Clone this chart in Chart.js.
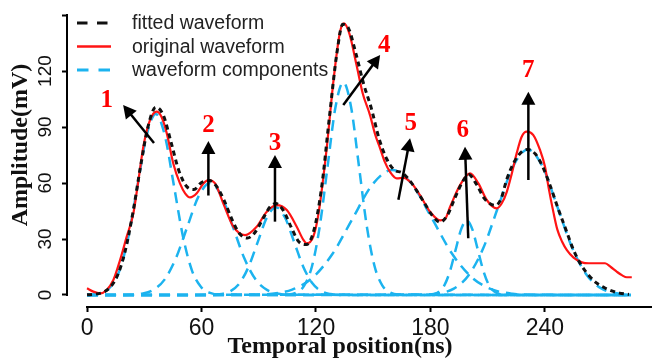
<!DOCTYPE html>
<html><head><meta charset="utf-8">
<script src="https://cdn.jsdelivr.net/npm/chart.js@4.4.0/dist/chart.umd.min.js"></script>
<style>html,body{margin:0;padding:0;background:#fff;overflow:hidden}canvas{display:block}</style>
</head><body>
<canvas id="c" width="652" height="358"></canvas>
<script>
const xTicks = [0, 60, 120, 180, 240];
const yTicks = [0, 30, 60, 90, 120, 150];
const yTickLabels = ['0', '30', '60', '90', '120', ''];
const seriesNames = ['fitted waveform', 'original waveform', 'waveform components'];

const fitted = [[0,0.1],[4,0.4],[8,1.3],[12,4],[16,10.6],[20,23.6],[24,43.9],[28,68.6],[32,90.3],[36,100.6],[40,96.3],[44,82],[48,67],[52,58.4],[56,56.5],[60,60.3],[64,61.3],[68,58.1],[72,50.3],[76,40.4],[80,32.8],[84,30.5],[88,33.5],[92,40.5],[96,47.3],[99,49],[103,45.1],[107,36.3],[111,28.5],[115,27],[119,35],[123,58],[127,95],[131,130],[134,145],[137,143],[141,129],[145,113],[149,100],[153,84],[157,73],[161,67],[165,65.5],[169,61.5],[173,55.5],[177,49],[181,42.5],[185,39],[189,43],[193,52.5],[197,61],[200,64.5],[204,59.5],[208,52],[211,49],[214,48],[217,51.5],[220,62],[224,71.5],[228,76.9],[231,78],[235,75.5],[239,68.3],[243,57.8],[247,46],[251,35],[255,24],[259,16],[263,10.5],[267,6.5],[271,4],[275,2.2],[279,1],[284,0.3]];

const original = [[0,3.6],[3.3,1.8],[6.8,0.9],[10.3,2.7],[13.8,8],[17.3,18.7],[20.8,31.3],[24.3,43.8],[27,62],[29.5,79.5],[33,93.7],[36.5,98.2],[39,95.5],[41.8,86.6],[45.2,70.5],[48.7,59.8],[51.4,54.5],[54,52.3],[57.5,54.5],[61,59.8],[63.6,61.6],[67.1,59.8],[71.4,49.1],[76.7,36.6],[82.8,32.1],[88.9,36.6],[94.2,44.6],[99.4,48.2],[104.7,45.5],[109.9,36.6],[113.4,29.5],[115.1,27.7],[118.6,31.3],[121.2,42.9],[125.6,78.6],[129.1,114.3],[132.6,141],[134.7,145.5],[137.5,140],[141.3,123],[144.5,108],[148.3,96.4],[151,86],[153.6,78.6],[156,71.5],[158.8,66],[162.3,62.5],[166,62.8],[170,60],[174.5,53.5],[179.8,44.6],[185,40],[187.5,40.5],[190.3,47.3],[195.5,58.9],[200.7,65.2],[205.1,59.8],[209.5,50.9],[214.7,46.4],[217.3,49],[220,55.3],[222.6,65],[225.2,76],[227.8,84.8],[230.4,87.5],[233.9,85.7],[237.4,77.7],[240,68.8],[242,57],[244.5,44],[246.5,35],[249,28.5],[251.5,24],[255,20],[259.3,17.5],[263,17],[267,17],[271.5,17],[274.5,15],[277.6,12.5],[280.5,10.5],[282.9,9.5],[285.5,9.5]];

const comp1 = [[0,0],[2.75,0.2],[7.5,1.1],[12.25,4.3],[17,13.1],[21.75,31.5],[26.5,58.8],[31.25,85.6],[36,97],[40.75,85.6],[45.5,58.8],[50.25,31.5],[55,13.1],[59.75,4.3],[64.5,1.1],[69.25,0.2],[285,0]];
const comp2 = [[0,0],[22.5,0.1],[28.5,0.7],[34.5,2.6],[40.5,8.1],[46.5,19.5],[52.5,36.4],[58.5,53],[64.5,60],[70.5,53],[76.5,36.4],[82.5,19.5],[88.5,8.1],[94.5,2.6],[100.5,0.7],[106.5,0.1],[285,0]];
const comp3 = [[0,0],[65.75,0.1],[70.5,0.5],[75.25,2.1],[80,6.4],[84.75,15.3],[89.5,28.5],[94.25,41.5],[99,47],[103.75,41.5],[108.5,28.5],[113.25,15.3],[118,6.4],[122.75,2.1],[127.5,0.5],[132.25,0.1],[285,0]];
const comp4 = [[0,0],[105.6,0.25],[109.7,1.3],[113.8,5],[117.9,15.4],[122,37],[126.1,69.1],[130.2,100.6],[134.3,114],[138.4,100.6],[142.5,69.1],[146.6,37],[150.7,15.4],[154.8,5],[158.9,1.3],[163,0.25],[285,0]];
const comp5 = [[0,0],[86.5,0.15],[97,0.7],[107.5,2.9],[118,9.1],[128.5,21.8],[139,40.6],[149.5,59.1],[160,67],[170.5,59.1],[181,40.6],[191.5,21.8],[202,9.1],[212.5,2.9],[223,0.7],[233.5,0.15],[285,0]];
const comp6 = [[0,0],[178.7,0.1],[181.6,0.4],[184.5,1.8],[187.4,5.4],[190.3,13],[193.2,24.3],[196.1,35.3],[199,40],[201.9,35.3],[204.8,24.3],[207.7,13],[210.6,5.4],[213.5,1.8],[216.4,0.4],[219.3,0.1],[285,0]];
const comp7 = [[0,0],[176.75,0.2],[184.5,0.9],[192.25,3.4],[200,10.6],[207.75,25.3],[215.5,47.3],[223.25,68.8],[231,78],[238.75,68.8],[246.5,47.3],[254.25,25.3],[262,10.6],[269.75,3.4],[277.5,0.9],[285,0.2]];

const peakLabels = ['1','2','3','4','5','6','7'];
const labelPos = [[10.3,104.1],[63.6,91],[98.5,81.3],[155.8,133.9],[169.6,91.6],[196.9,88],[231.3,120.5]];
const arrowFrom = [[35.1,81.4],[63.6,53.3],[98.5,39.3],[134.3,101.8],[163.2,51],[199.8,30.4],[231.3,61.6]];
const arrowTo = [[18.9,101.8],[63.6,82.5],[98.5,75],[153.6,128.6],[169.3,84],[198.1,79.4],[231.3,108.9]];

const BLUE = '#1cb3ef', RED = '#ff1414', BLACK = '#111111';
const toXY = a => a.map(p => ({x: p[0], y: p[1]}));
const comps = [comp1, comp2, comp3, comp4, comp5, comp6, comp7];
const common = {pointRadius: 0, fill: false, cubicInterpolationMode: 'monotone', borderCapStyle: 'butt'};
const datasets = [
  Object.assign({label: seriesNames[0], data: toXY(fitted), borderColor: BLACK, borderWidth: 3, borderDash: [5, 4]}, common),
  Object.assign({label: seriesNames[1], data: toXY(original), borderColor: RED, borderWidth: 2.2}, common)
].concat(comps.map(c => Object.assign({label: seriesNames[2], data: toXY(c), borderColor: BLUE, borderWidth: 2.5, borderDash: [11, 7]}, common)));

const SANS = '"Liberation Sans", Arial, sans-serif';
const SERIF = '"Liberation Serif", "Times New Roman", serif';

const decor = {
  id: 'decor',
  beforeDatasetsDraw(chart) {
    const {ctx, chartArea, scales: {x, y}} = chart;
    ctx.save();
    ctx.strokeStyle = '#000';
    ctx.lineWidth = 2;
    ctx.beginPath();
    ctx.moveTo(x.getPixelForValue(xTicks[0]) - 1, chartArea.bottom);
    ctx.lineTo(chartArea.right, chartArea.bottom);
    ctx.moveTo(chartArea.left, y.getPixelForValue(yTicks[0]) + 1);
    ctx.lineTo(chartArea.left, y.getPixelForValue(yTicks[yTicks.length - 1]) - 1);
    ctx.stroke();
    // rotated y tick labels
    ctx.fillStyle = '#111';
    ctx.font = '19px ' + SANS;
    ctx.textAlign = 'center'; ctx.textBaseline = 'middle';
    yTicks.forEach((v, i) => {
      if (!yTickLabels[i]) return;
      ctx.save();
      ctx.translate(chartArea.left - 21, y.getPixelForValue(v));
      ctx.rotate(-Math.PI / 2);
      ctx.fillText(yTickLabels[i], 0, 0);
      ctx.restore();
    });
    ctx.restore();
  },
  afterDatasetsDraw(chart) {
    const {ctx, scales: {x, y}} = chart;
    ctx.save();
    ctx.strokeStyle = '#000'; ctx.fillStyle = '#000'; ctx.lineWidth = 2.5;
    for (let i = 0; i < arrowFrom.length; i++) {
      const x0 = x.getPixelForValue(arrowFrom[i][0]), y0 = y.getPixelForValue(arrowFrom[i][1]);
      const x1 = x.getPixelForValue(arrowTo[i][0]), y1 = y.getPixelForValue(arrowTo[i][1]);
      const ang = Math.atan2(y1 - y0, x1 - x0);
      const hl = 13, hw = 7;
      const bx = x1 - hl * Math.cos(ang), by = y1 - hl * Math.sin(ang);
      ctx.beginPath(); ctx.moveTo(x0, y0); ctx.lineTo(bx + Math.cos(ang), by + Math.sin(ang)); ctx.stroke();
      ctx.beginPath();
      ctx.moveTo(x1, y1);
      ctx.lineTo(bx + hw * Math.sin(ang), by - hw * Math.cos(ang));
      ctx.lineTo(bx - hw * Math.sin(ang), by + hw * Math.cos(ang));
      ctx.closePath(); ctx.fill();
    }
    ctx.fillStyle = '#ff0000';
    ctx.font = 'bold 25px ' + SERIF;
    ctx.textAlign = 'center'; ctx.textBaseline = 'middle';
    peakLabels.forEach((t, i) => ctx.fillText(t, x.getPixelForValue(labelPos[i][0]), y.getPixelForValue(labelPos[i][1])));
    const rows = [23, 46.5, 70];
    const styles = [[BLACK, 3, [10.5, 9.5]], [RED, 2.5, []], [BLUE, 2.8, [11.5, 10]]];
    ctx.font = '19.5px ' + SANS; ctx.textAlign = 'left'; ctx.textBaseline = 'middle';
    seriesNames.forEach((n, i) => {
      ctx.strokeStyle = styles[i][0]; ctx.lineWidth = styles[i][1]; ctx.setLineDash(styles[i][2]);
      ctx.beginPath(); ctx.moveTo(77, rows[i]); ctx.lineTo(111, rows[i]); ctx.stroke();
      ctx.setLineDash([]);
      ctx.fillStyle = '#222';
      ctx.fillText(n, 132, rows[i] + 1);
    });
    ctx.fillStyle = '#111';
    ctx.font = 'bold 24px ' + SERIF;
    ctx.textAlign = 'center'; ctx.textBaseline = 'alphabetic';
    ctx.fillText('Temporal position(ns)', 340, 353);
    ctx.translate(21, 145); ctx.rotate(-Math.PI / 2);
    ctx.textBaseline = 'middle';
    ctx.fillText('Amplitude(mV)', 0, 0);
    ctx.restore();
  }
};

new Chart(document.getElementById('c'), {
  type: 'line',
  data: {datasets},
  plugins: [decor],
  options: {
    responsive: false, animation: false, events: [],
    layout: {padding: {top: 10, left: 0, right: 0, bottom: 0}},
    plugins: {legend: {display: false}, tooltip: {enabled: false}},
    scales: {
      x: {
        type: 'linear', min: -10.5, max: 296.1,
        afterBuildTicks: s => { s.ticks = xTicks.map(v => ({value: v})); },
        afterFit: s => { s.height = 51; },
        grid: {display: true, drawOnChartArea: false, drawTicks: true, tickLength: 5, tickWidth: 2, tickColor: '#000'},
        border: {display: false},
        ticks: {autoSkip: false, maxRotation: 0, minRotation: 0, padding: 3, color: '#111', font: {family: SANS, size: 23}}
      },
      y: {
        type: 'linear', min: -6.43, max: 152.7,
        afterBuildTicks: s => { s.ticks = yTicks.map(v => ({value: v})); },
        afterFit: s => { s.width = 67; },
        grid: {display: true, drawOnChartArea: false, drawTicks: true, tickLength: 5, tickWidth: 2, tickColor: '#000'},
        border: {display: false},
        ticks: {display: false}
      }
    }
  }
});
</script>
</body></html>
